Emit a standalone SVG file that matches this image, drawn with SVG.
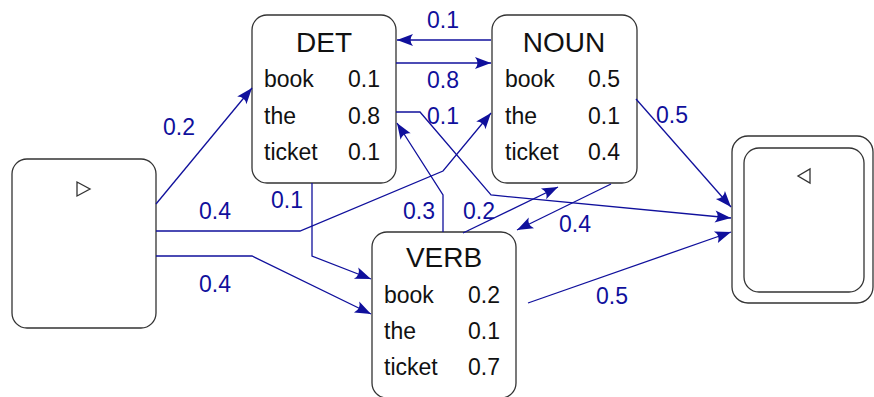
<svg xmlns="http://www.w3.org/2000/svg" width="874" height="397" viewBox="0 0 874 397">
<style>
.box{fill:#fff;stroke:#333;stroke-width:1.3}
.title{font-family:"Liberation Sans",Arial,sans-serif;font-size:28px;fill:#111;text-anchor:middle}
.row{font-family:"Liberation Sans",Arial,sans-serif;font-size:23px;fill:#111}
.edge{fill:none;stroke:#10109c;stroke-width:1.3;marker-end:url(#arr)}
.lbl{font-family:"Liberation Sans",Arial,sans-serif;font-size:23px;fill:#10109c}
.tri{fill:none;stroke:#333;stroke-width:1.3}
</style>
<defs>
<marker id="arr" markerUnits="userSpaceOnUse" markerWidth="20" markerHeight="14" viewBox="-17 -7 18 14" refX="0" refY="0" orient="auto">
<path d="M0,0 L-16,-6 Q-11,0 -16,6 Z" fill="#10109c"/>
</marker>
</defs>
<g id="start">
<rect class="box" x="12" y="159" width="144" height="169" rx="15"/>
<path class="tri" d="M77,182 L77,196 L90,189 Z"/>
</g>
<g id="det">
<rect class="box" x="252" y="15" width="144" height="168" rx="15"/>
<text class="title" x="324" y="52">DET</text>
<text class="row" x="264" y="87">book</text><text class="row" x="348" y="87">0.1</text>
<text class="row" x="264" y="124">the</text><text class="row" x="348" y="124">0.8</text>
<text class="row" x="264" y="160">ticket</text><text class="row" x="348" y="160">0.1</text>
</g>
<g id="noun">
<rect class="box" x="492" y="15" width="145" height="168" rx="15"/>
<text class="title" x="564" y="52">NOUN</text>
<text class="row" x="505" y="87">book</text><text class="row" x="588" y="87">0.5</text>
<text class="row" x="505" y="124">the</text><text class="row" x="588" y="124">0.1</text>
<text class="row" x="505" y="160">ticket</text><text class="row" x="588" y="160">0.4</text>
</g>
<g id="verb">
<rect class="box" x="372" y="232" width="144" height="166" rx="15"/>
<text class="title" x="444" y="267">VERB</text>
<text class="row" x="384" y="303">book</text><text class="row" x="468" y="303">0.2</text>
<text class="row" x="384" y="339">the</text><text class="row" x="468" y="339">0.1</text>
<text class="row" x="384" y="375">ticket</text><text class="row" x="468" y="375">0.7</text>
</g>
<g id="end">
<rect class="box" x="732" y="136" width="141" height="167" rx="16"/>
<rect class="box" x="744" y="148" width="120" height="144" rx="15"/>
<path class="tri" d="M810,169 L810,183 L798,176 Z"/>
</g>
<g id="connectors">
<path class="edge" d="M156,204 L252,88"/>
<path class="edge" d="M156,231 L300,231 L443,171 L491,113"/>
<path class="edge" d="M156,256 L252,256 L371,314"/>
<path class="edge" d="M312,183 L312,256 L371,279"/>
<path class="edge" d="M396,63 L491,63"/>
<path class="edge" d="M491,40 L397,40"/>
<path class="edge" d="M396,112 L420,112 L491,195 L731,218"/>
<path class="edge" d="M443,232 L443,195 L397,123"/>
<path class="edge" d="M463,233 L558,187"/>
<path class="edge" d="M611,184 L517,230"/>
<path class="edge" d="M636,99 L731,207"/>
<path class="edge" d="M528,303 L731,232"/>
<text class="lbl" x="163" y="135">0.2</text>
<text class="lbl" x="427" y="28">0.1</text>
<text class="lbl" x="427" y="88">0.8</text>
<text class="lbl" x="427" y="124">0.1</text>
<text class="lbl" x="656" y="123">0.5</text>
<text class="lbl" x="199" y="219">0.4</text>
<text class="lbl" x="199" y="292">0.4</text>
<text class="lbl" x="271" y="208">0.1</text>
<text class="lbl" x="403" y="219">0.3</text>
<text class="lbl" x="463" y="219">0.2</text>
<text class="lbl" x="559" y="232">0.4</text>
<text class="lbl" x="596" y="304">0.5</text>
</g>
</svg>
